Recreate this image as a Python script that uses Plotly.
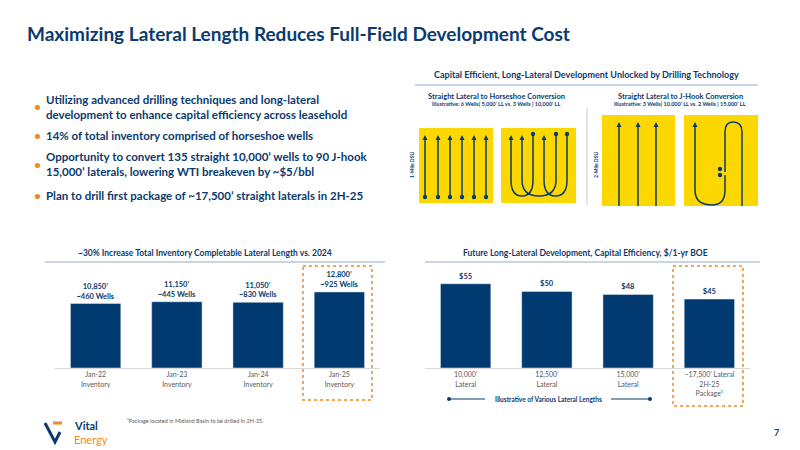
import plotly.graph_objects as go

NAVY = "#0b3a6e"
BAR = "#003a70"
ORANGE = "#f08a24"
YELLOW = "#fdd800"
GRAY = "#595959"
FONT = "Lato"

inv_cats = ["Jan-22<br>Inventory", "Jan-23<br>Inventory", "Jan-24<br>Inventory", "Jan-25<br>Inventory"]
inv_length = [10850, 11150, 11050, 12800]
inv_wells = [460, 445, 830, 925]

cost_cats = ["10,000’<br>Lateral", "12,500’<br>Lateral", "15,000’<br>Lateral", "~17,500’ Lateral<br>2H-25<br>Package¹"]
cost_boe = [55, 50, 48, 45]

bullets = [
    "Utilizing advanced drilling techniques and long-lateral<br>development to enhance capital efficiency across leasehold",
    "14% of total inventory comprised of horseshoe wells",
    "Opportunity to convert 135 straight 10,000’ wells to 90 J-hook<br>15,000’ laterals, lowering WTI breakeven by ~$5/bbl",
    "Plan to drill first package of ~17,500’ straight laterals in 2H-25",
]
bullet_y = [107, 135, 164, 195]

W, H = 800, 450


def px(x):
    return x / W


def py(y):
    return 1 - y / H


fig = go.Figure()

fig.add_trace(go.Bar(
    x=inv_cats, y=inv_length, marker_color=BAR, width=0.62,
    text=[f"<b>{v:,}’<br>~{w} Wells</b>" for v, w in zip(inv_length, inv_wells)],
    textposition="outside", textfont=dict(size=7.5, color=NAVY, family=FONT),
    cliponaxis=False, xaxis="x", yaxis="y", showlegend=False))

fig.add_trace(go.Bar(
    x=cost_cats, y=cost_boe, marker_color=BAR, width=0.62,
    text=[f"<b>${v}</b>" for v in cost_boe],
    textposition="outside", textfont=dict(size=7.5, color=NAVY, family=FONT),
    cliponaxis=False, xaxis="x2", yaxis="y2", showlegend=False))

# invisible overlay axis in pixel units for the diagram
fig.add_trace(go.Scatter(x=[0], y=[0], mode="markers", marker=dict(opacity=0),
                         xaxis="x3", yaxis="y3", showlegend=False, hoverinfo="skip"))

shapes = []
ann = []


def line(x0, y0, x1, y1, color=NAVY, width=1.5, dash="solid"):
    shapes.append(dict(type="line", xref="x3", yref="y3", x0=x0, y0=y0, x1=x1, y1=y1,
                       line=dict(color=color, width=width, dash=dash)))


def rect(x0, y0, x1, y1, fill=YELLOW, color=None, dash="solid", width=0):
    shapes.append(dict(type="rect", xref="x3", yref="y3", x0=x0, y0=y0, x1=x1, y1=y1,
                       fillcolor=fill, line=dict(color=color or fill, width=width, dash=dash),
                       layer="below"))


def dot(x, y, r=2.2):
    shapes.append(dict(type="circle", xref="x3", yref="y3", x0=x - r, y0=y - r, x1=x + r, y1=y + r,
                       fillcolor=NAVY, line=dict(color=NAVY, width=0)))


def arrow_head(x, y):
    shapes.append(dict(type="path", xref="x3", yref="y3",
                       path=f"M {x-2.5},{y+5} L {x},{y} L {x+2.5},{y+5} Z",
                       fillcolor=NAVY, line=dict(color=NAVY, width=0)))


def path(p, color=NAVY, width=1.5):
    shapes.append(dict(type="path", xref="x3", yref="y3", path=p,
                       line=dict(color=color, width=width)))


def text(x, y, s, size=8, color=NAVY, bold=True, xanchor="center", yanchor="middle", align="center", angle=0):
    ann.append(dict(xref="paper", yref="paper", x=px(x), y=py(y), text=f"<b>{s}</b>" if bold else s,
                    showarrow=False, xanchor=xanchor, yanchor=yanchor, align=align, textangle=angle,
                    font=dict(size=size, color=color, family=FONT)))


# title
text(25, 33, "Maximizing Lateral Length Reduces Full-Field Development Cost", size=19, xanchor="left")

# bullets
for s, y in zip(bullets, bullet_y):
    text(32, y, "•", size=12, color=ORANGE, xanchor="left")
    text(44, y, s, size=11.5, xanchor="left", align="left")

# diagram
text(586, 75, "Capital Efficient, Long-Lateral Development Unlocked by Drilling Technology", size=9)
line(415, 85, 758, 85, color="#8eaed0", width=1)
text(496, 96, "Straight Lateral to Horseshoe Conversion", size=7.5)
text(496, 104, "Illustrative: 6 Wells| 5,000’ LL vs. 3 Wells | 10,000’ LL", size=5.5)
text(680, 96, "Straight Lateral to J-Hook Conversion", size=7.5)
text(680, 104, "Illustrative: 3 Wells| 10,000’ LL vs. 2 Wells | 15,000’ LL", size=5.5)
line(587, 108, 587, 205, color="#c8c8c8", width=1)
text(412, 165, "1-Mile DSU", size=5, angle=-90)
text(596, 165, "2-Mile DSU", size=5, angle=-90)

rect(419, 128, 493, 203)
rect(501, 128, 576, 203)
rect(602, 115, 675, 206)
rect(684, 115, 758, 206)

for x in [425, 438, 450, 462, 474, 486]:
    line(x, 137, x, 197)
    arrow_head(x, 135)
    dot(x, 197)

for xa, xb in [(511, 533), (522, 556), (544, 567)]:
    path(f"M {xa},137 L {xa},180 Q {xa},196 {(xa+xb)/2},196 Q {xb},196 {xb},180 L {xb},134")
    arrow_head(xa, 135)
    dot(xb, 134)

for x in [619, 638, 656]:
    line(x, 124, x, 206)
    arrow_head(x, 122)

path("M 695,124 L 695,190 Q 695,205 712,205 Q 725,205 725,190 L 725,175 M 725,172 L 725,132 "
     "Q 725,122 733,122 Q 742,122 742,132 L 742,206")
arrow_head(695, 122)
dot(720, 169)
dot(720, 175)

# chart titles
text(205, 253, "~30% Increase Total Inventory Completable Lateral Length vs. 2024", size=8.5)
line(45, 262, 385, 262, color="#8eaed0", width=1)
text(585, 253, "Future Long-Lateral Development, Capital Efficiency, $/1-yr BOE", size=8.5)
line(425, 262, 760, 262, color="#8eaed0", width=1)

# highlight boxes
rect(303, 266, 372, 400, fill="rgba(0,0,0,0)", color=ORANGE, dash="dot", width=1.5)
rect(673, 266, 743, 406, fill="rgba(0,0,0,0)", color=ORANGE, dash="dot", width=1.5)

# lateral legend
text(548, 399, "Illustrative of Various Lateral Lengths", size=6.5)
line(449, 399, 485, 399, width=1)
line(611, 399, 650, 399, width=1)
dot(449, 399, 2)
dot(650, 399, 2)

# footer
text(125, 421, "¹Package located in Midland Basin to be drilled in 2H-25.", size=5.5, color=GRAY,
     bold=False, xanchor="left")
path("M 45,423 L 55,442 L 60,432", width=3)
path("M 53,423 L 62,423", color=ORANGE, width=3)
text(72, 425, "Vital", size=11, xanchor="left")
text(72, 439, "Energy", size=11, color=ORANGE, bold=False, xanchor="left")
text(776, 432, "7", size=9)

axis_common = dict(showgrid=False, zeroline=False, fixedrange=True)
fig.update_layout(
    width=W, height=H, margin=dict(l=0, r=0, t=0, b=0),
    paper_bgcolor="white", plot_bgcolor="rgba(0,0,0,0)",
    font=dict(family=FONT),
    xaxis=dict(domain=[px(55), px(380)], showline=True, linecolor="#d9d9d9", ticks="",
               tickfont=dict(size=7, color=GRAY), **axis_common),
    yaxis=dict(domain=[py(368), py(283)], range=[0, 14300], visible=False, **axis_common),
    xaxis2=dict(domain=[px(425), px(750)], showline=True, linecolor="#d9d9d9", ticks="",
                tickfont=dict(size=7, color=GRAY), **axis_common),
    yaxis2=dict(domain=[py(368), py(283)], range=[0, 55.5], visible=False, **axis_common),
    xaxis3=dict(domain=[0, 1], range=[0, W], visible=False, **axis_common),
    yaxis3=dict(domain=[0, 1], range=[H, 0], visible=False, **axis_common),
    shapes=shapes, annotations=ann, bargap=0.38,
)

fig.write_html("out.html", config={"displayModeBar": False},
               post_script="document.body.style.margin='0';")
